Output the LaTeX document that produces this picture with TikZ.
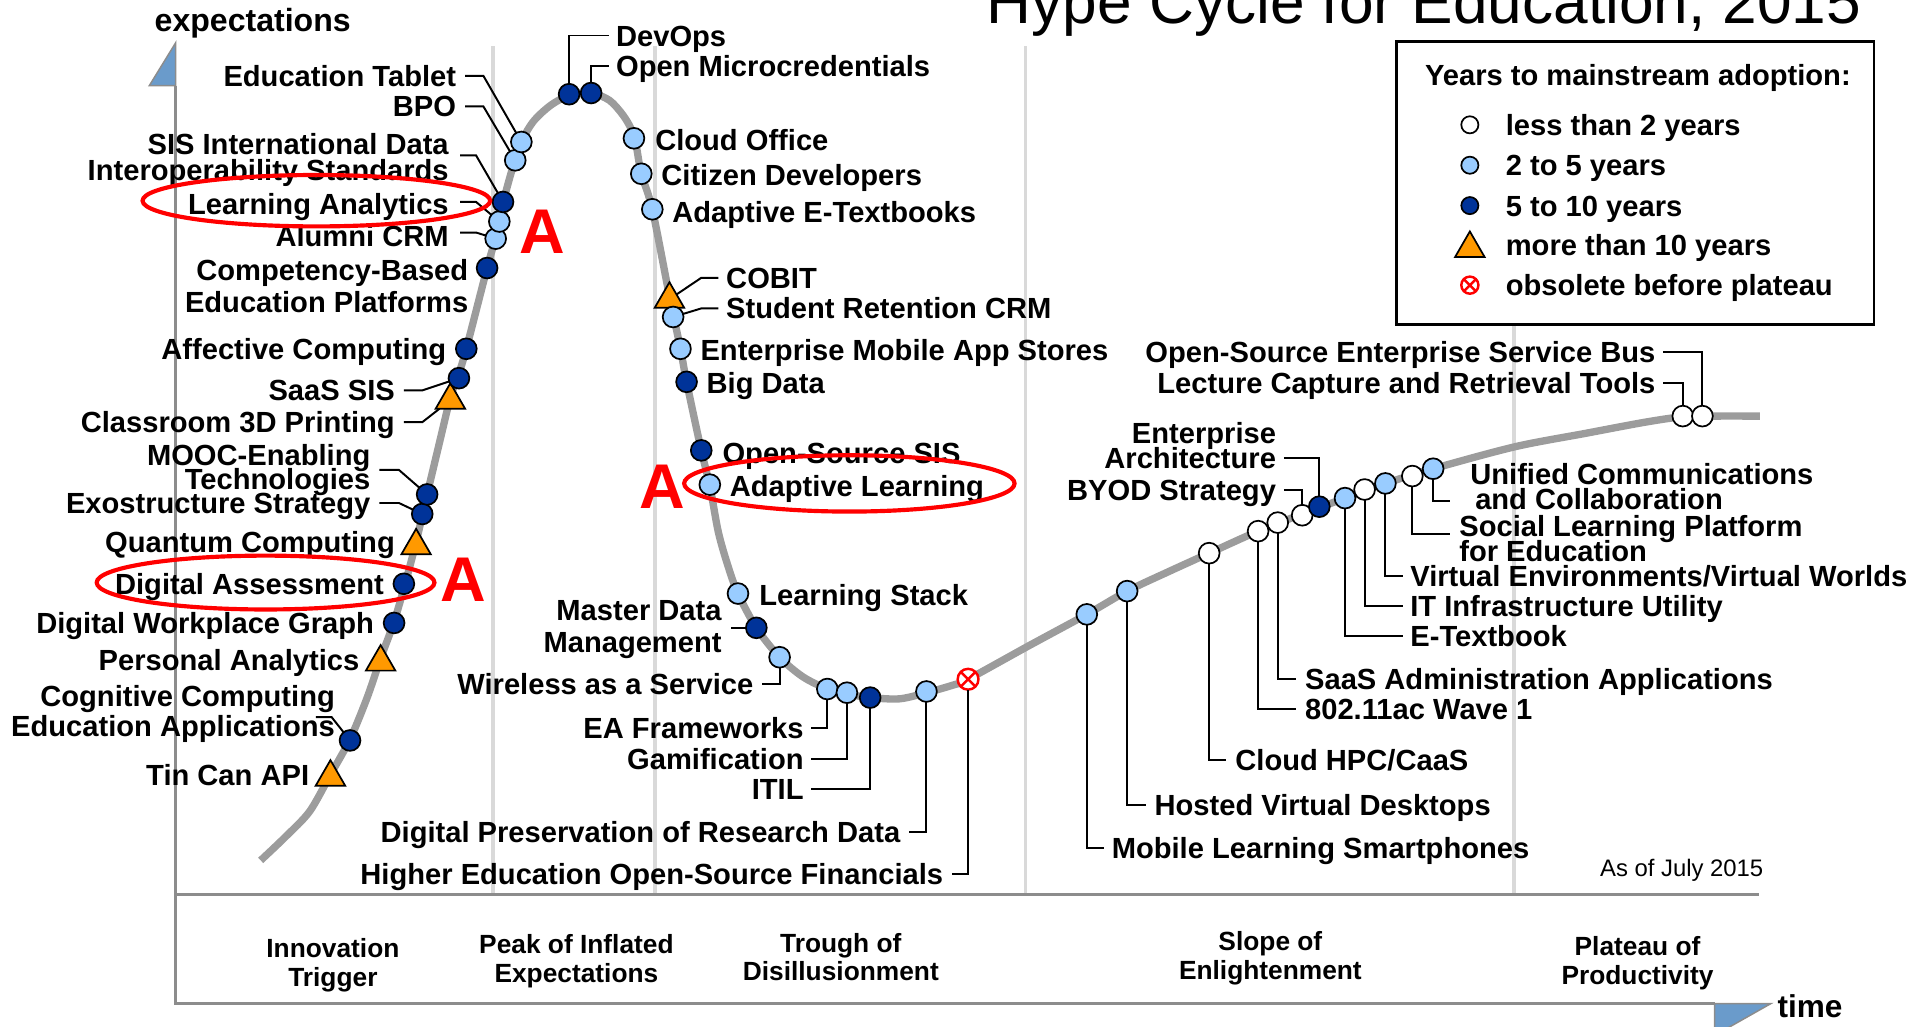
\documentclass[tikz,border=0pt]{standalone}
\usepackage{fontspec}
\setmainfont{Liberation Sans}
\usetikzlibrary{shapes.geometric}

\definecolor{curvegray}{HTML}{9C9C9C}
\definecolor{sepgray}{HTML}{D9D9D9}
\definecolor{axisgray}{HTML}{8C8C8C}
\definecolor{axisblue}{HTML}{6A9BCB}
\definecolor{lightblue}{HTML}{99CCFF}
\definecolor{darkblue}{HTML}{003399}
\definecolor{triorange}{HTML}{FF9900}

\newcommand\lblfont{\bfseries\fontsize{11.9}{10.5}\selectfont\lineskiplimit=-20pt\relax}
\newcommand\phasefont{\bfseries\fontsize{10.75}{11.75}\selectfont\lineskiplimit=-20pt\relax}

\begin{document}
\begin{tikzpicture}[x=0.5pt,y=-0.5pt,
  sep/.style={draw=sepgray, line width=1.5pt},
  axis/.style={draw=axisgray, line width=1.2pt},
  arrowtri/.style={fill=axisblue, draw=axisgray, line width=0.6pt},
  hype/.style={draw=curvegray, line width=3pt, line join=round},
  lead/.style={draw=black, line width=0.8pt},
  mk/.style={circle, draw=black, line width=0.7pt, minimum size=8.5pt, inner sep=0pt, outer sep=0pt},
  mwhite/.style={mk, fill=white},
  mlight/.style={mk, fill=lightblue},
  mdark/.style={mk, fill=darkblue},
  mtri/.style={regular polygon, regular polygon sides=3, draw=black, fill=triorange, line width=0.7pt, minimum size=13.9pt, inner sep=0pt, outer sep=0pt},
  mobs/.style={circle, draw=red, fill=white, line width=1pt, minimum size=8.5pt, inner sep=0pt, outer sep=0pt,
    path picture={\draw[red,line width=1pt] (path picture bounding box.north west) -- (path picture bounding box.south east)
      (path picture bounding box.north east) -- (path picture bounding box.south west);}},
  lbl/.style={font=\lblfont, inner sep=0pt, text height=8.6pt, text depth=0pt},
  lbll/.style={font=\lblfont, inner sep=0pt, align=left},
  lblr/.style={font=\lblfont, inner sep=0pt, align=right},
  phase/.style={font=\phasefont, inner sep=0pt, align=center},
  redring/.style={draw=red, line width=1.7pt},
  redA/.style={font=\bfseries\fontsize{25.8}{25.8}\selectfont, text=red, inner sep=0pt}]

\useasboundingbox (0,0) rectangle (1568,839);

% phase separators
\foreach \sx in {403,535,838,1237} \draw[sep] (\sx,38) -- (\sx,731);

% legend frame
\draw[fill=white, draw=black, line width=1pt] (1141,34) rectangle (1531,265);

% axes and phase band
\draw[axis] (143.5,70) -- (143.5,820) -- (1401,820);
\draw[axis] (143.5,731) -- (1437,731);
\filldraw[arrowtri] (143.5,35) -- (143.5,70) -- (122,70) -- cycle;
\filldraw[arrowtri] (1401,820) -- (1447,820) -- (1401,846) -- cycle;

\node[font=\bfseries\fontsize{13.1}{15}\selectfont, inner sep=0pt, anchor=base west] (yax) at (126,26) {expectations};
\node[font=\bfseries\fontsize{12.9}{15}\selectfont, inner sep=0pt, anchor=base west] (xax) at (1452,831) {time};
\node[font=\fontsize{25.4}{30}\selectfont, inner sep=0pt, anchor=base west] (title) at (806,19) {Hype Cycle for Education, 2015};
\node[font=\fontsize{9.75}{12}\selectfont, inner sep=0pt, anchor=base west] (asof) at (1307,716) {As of July 2015};

% phase names
\node[phase] (ph1) at (272,788.5) {Innovation\\Trigger};
\node[phase] (ph2) at (471,785.5) {Peak of Inflated\\Expectations};
\node[phase] (ph3) at (687,782) {Trough of\\Disillusionment};
\node[phase] (ph4) at (1038,783) {Slope of\\Enlightenment};
\node[phase] (ph5) at (1338,787) {Plateau of\\Productivity};

% the hype curve
\draw[hype] plot[smooth, tension=0.5] coordinates {
 (213,703) (233,684) (253,663) (270,633) (286,604) (300,570) (311,538) (322,508) (331,477)
 (340,443) (349,404) (359,362) (368,325) (375,305) (381,285) (398,219) (405,194) (411,166)
 (418,140) (426,116) (436,99) (450,86) (465,78) (483,76) (498,82) (509,94) (516,106)
 (520,120) (524,142) (533,171) (547,242) (556,285) (561,312) (573,368) (580,397) (587,435)
 (595,463) (603,485) (618,513) (637,537) (656,553) (676,563) (692,567) (711,570) (735,571)
 (757,566) (778,560) (791,555) (840,528) (888,502) (921,483) (955,467) (988,452) (1028,434)
 (1064,420) (1099,407) (1132,395) (1171,383) (1238,365) (1296,354) (1344,345) (1375,340.5)
 (1400,340) (1438,340)};

% technology markers
\node[mtri]   (mTin)   at (270,635) {};
\node[mdark]  (mCog)   at (286,605) {};
\node[mtri]   (mPA)    at (311,541) {};
\node[mdark]  (mDWG)   at (322,509) {};
\node[mdark]  (mDA)    at (330,477) {};
\node[mtri]   (mQC)    at (340,446) {};
\node[mdark]  (mExo)   at (345,420) {};
\node[mdark]  (mMOOC)  at (349,404) {};
\node[mtri]   (mC3D)   at (368,327) {};
\node[mdark]  (mSaaS)  at (375,309) {};
\node[mdark]  (mAff)   at (381,285) {};
\node[mdark]  (mCBE)   at (398,219) {};
\node[mlight] (mAlu)   at (405,195) {};
\node[mlight] (mLA)    at (408,181) {};
\node[mdark]  (mSIS)   at (411,165) {};
\node[mlight] (mBPO)   at (421,131) {};
\node[mlight] (mEdTab) at (426,116) {};
\node[mdark]  (mDev)   at (465,77) {};
\node[mdark]  (mOMC)   at (483,76) {};
\node[mlight] (mCO)    at (518,113) {};
\node[mlight] (mCD)    at (524,142) {};
\node[mlight] (mAET)   at (533,171) {};
\node[mtri]   (mCOBIT) at (547,244.5) {};
\node[mlight] (mSRC)   at (550,259) {};
\node[mlight] (mEMA)   at (556,285) {};
\node[mdark]  (mBD)    at (561,312) {};
\node[mdark]  (mOSS)   at (573,368) {};
\node[mlight] (mAL)    at (580,396) {};
\node[mlight] (mLS)    at (603,485) {};
\node[mdark]  (mMDM)   at (618,513) {};
\node[mlight] (mWaaS)  at (637,537) {};
\node[mlight] (mEAF)   at (676,563) {};
\node[mlight] (mGam)   at (692,566) {};
\node[mdark]  (mITIL)  at (711,570) {};
\node[mlight] (mDP)    at (757,565) {};
\node[mobs]   (mHE)    at (791,555) {};
\node[mlight] (mMob)   at (888,502) {};
\node[mlight] (mHVD)   at (921,483) {};
\node[mwhite] (mHPC)   at (988,452) {};
\node[mwhite] (mWave)  at (1028,434) {};
\node[mwhite] (mSAA)   at (1044,427) {};
\node[mwhite] (mBYOD)  at (1064,421) {};
\node[mdark]  (mEArch) at (1078,414) {};
\node[mlight] (mET)    at (1099,407) {};
\node[mwhite] (mITU)   at (1115,400) {};
\node[mlight] (mVE)    at (1132,395) {};
\node[mwhite] (mSLP)   at (1154,389) {};
\node[mlight] (mUCC)   at (1171,383) {};
\node[mwhite] (mLCR)   at (1375,340) {};
\node[mwhite] (mESB)   at (1391,340) {};

% labels: rising slope
\node[lbl, anchor=east] (lEdTab) at (373,62) {Education Tablet};
\node[lbl, anchor=east] (lBPO) at (373,87) {BPO};
\node[lblr, anchor=east] (lSIS) at (367,130.5) {SIS International Data\\Interoperability Standards};
\node[lbl, anchor=east] (lLA) at (367,167) {Learning Analytics};
\node[lbl, anchor=east] (lAlu) at (367,193) {Alumni CRM};
\node[lblr, anchor=east] (lCBE) at (383,234) {Competency-Based\\[2.5pt]Education Platforms};
\node[lbl, anchor=east] (lAff) at (365,285) {Affective Computing};
\node[lbl, anchor=east] (lSaaS) at (323,319) {SaaS SIS};
\node[lbl, anchor=east] (lC3D) at (323,345) {Classroom 3D Printing};
\node[lblr, anchor=east] (lMOOC) at (303,384) {MOOC-Enabling\\[-0.5pt]Technologies};
\node[lbl, anchor=east] (lExo) at (303,411) {Exostructure Strategy};
\node[lbl, anchor=east] (lQC) at (323,443) {Quantum Computing};
\node[lbl, anchor=east] (lDA) at (314,477) {Digital Assessment};
\node[lbl, anchor=east] (lDWG) at (306,509) {Digital Workplace Graph};
\node[lbl, anchor=east] (lPA) at (294,539) {Personal Analytics};
\node[lblr, anchor=east] (lCog) at (274,583.5) {Cognitive Computing\\[2pt]Education Applications};
\node[lbl, anchor=east] (lTin) at (253,633) {Tin Can API};

% labels: peak and descent
\node[lbl, anchor=west] (lDev) at (503,29) {DevOps};
\node[lbl, anchor=west] (lOMC) at (503,54) {Open Microcredentials};
\node[lbl, anchor=west] (lCO) at (535,114) {Cloud Office};
\node[lbl, anchor=west] (lCD) at (540,143) {Citizen Developers};
\node[lbl, anchor=west] (lAET) at (549,173) {Adaptive E-Textbooks};
\node[lbl, anchor=west] (lCOBIT) at (593,227) {COBIT};
\node[lbl, anchor=west] (lSRC) at (593,252) {Student Retention CRM};
\node[lbl, anchor=west] (lEMA) at (572,286) {Enterprise Mobile App Stores};
\node[lbl, anchor=west] (lBD) at (577,313) {Big Data};
\node[lbl, anchor=west] (lOSS) at (590,370) {Open-Source SIS};
\node[lbl, anchor=west] (lAL) at (596,397) {Adaptive Learning};
\node[lbl, anchor=west] (lLS) at (620,486) {Learning Stack};

% labels: trough
\node[lblr, anchor=east] (lMDM) at (590,514.5) {Master Data\\[2.5pt]Management};
\node[lbl, anchor=east] (lWaaS) at (616,559) {Wireless as a Service};
\node[lbl, anchor=east] (lEAF) at (657,595) {EA Frameworks};
\node[lbl, anchor=east] (lGam) at (657,620) {Gamification};
\node[lbl, anchor=east] (lITIL) at (657,645) {ITIL};
\node[lbl, anchor=east] (lDP) at (736,680) {Digital Preservation of Research Data};
\node[lbl, anchor=east] (lHE) at (771,714) {Higher Education Open-Source Financials};

% labels: slope and plateau
\node[lbl, anchor=west] (lMob) at (908,693) {Mobile Learning Smartphones};
\node[lbl, anchor=west] (lHVD) at (943,658) {Hosted Virtual Desktops};
\node[lbl, anchor=west] (lHPC) at (1009,621) {Cloud HPC/CaaS};
\node[lbl, anchor=west] (lWave) at (1066,579) {802.11ac Wave 1};
\node[lbl, anchor=west] (lSAA) at (1066,555) {SaaS Administration Applications};
\node[lbl, anchor=east] (lBYOD) at (1043,400) {BYOD Strategy};
\node[lblr, anchor=east] (lEArch) at (1043,364) {Enterprise\\[-0.5pt]Architecture};
\node[lbl, anchor=west] (lET) at (1152,520) {E-Textbook};
\node[lbl, anchor=west] (lITU) at (1152,495) {IT Infrastructure Utility};
\node[lbl, anchor=west] (lVE) at (1152,471) {Virtual Environments/Virtual Worlds};
\node[lbll, anchor=west] (lSLP) at (1192,440) {Social Learning Platform\\[-0.5pt]for Education};
\node[lbll, anchor=west] (lUCC) at (1201,397.5) {Unified Communications\\\hspace*{2pt}and Collaboration};
\node[lbl, anchor=east] (lESB) at (1353,288) {Open-Source Enterprise Service Bus};
\node[lbl, anchor=east] (lLCR) at (1353,313) {Lecture Capture and Retrieval Tools};

% leader lines
\draw[lead] ([xshift=3.5pt]lEdTab.east) -- ++(15,0) -- (mEdTab);
\draw[lead] ([xshift=3.5pt]lBPO.east) -- ++(15,0) -- (mBPO);
\draw[lead] ([xshift=4.5pt,yshift=1.75pt]lSIS.east) -- ++(13,0) -- (mSIS);
\draw[lead] ([xshift=4.5pt,yshift=1pt]lLA.east) -- ++(13,0) -- (mLA);
\draw[lead] ([xshift=4.5pt,yshift=1.5pt]lAlu.east) -- ++(13,0) -- (mAlu);
\draw[lead] ([xshift=3.5pt]lSaaS.east) -- ++(15,0) -- (mSaaS);
\draw[lead] ([xshift=3.5pt]lC3D.east) -- ++(15,0) -- (mC3D);
\draw[lead] ([xshift=3.5pt]lMOOC.east) -- ++(16,0) -- (mMOOC);
\draw[lead] ([xshift=3.5pt]lExo.east) -- ++(16,0) -- (mExo);
\draw[lead] ([xshift=-8pt,yshift=-1.25pt]lCog.east) -- ++(13,0) -- (mCog);
\draw[lead] (mDev) |- ([xshift=-2.5pt]lDev.west);
\draw[lead] (mOMC) |- ([xshift=-2.5pt]lOMC.west);
\draw[lead] (mCOBIT) -- ([xshift=-10pt]lCOBIT.west) -- ([xshift=-3pt]lCOBIT.west);
\draw[lead] (mSRC) -- ([xshift=-10pt]lSRC.west) -- ([xshift=-3pt]lSRC.west);
\draw[lead, shorten >=3.5pt] (mMDM) -- (mMDM -| lMDM.east);
\draw[lead] (mWaaS) |- ([xshift=3.5pt]lWaaS.east);
\draw[lead] (mEAF) |- ([xshift=3pt]lEAF.east);
\draw[lead] (mGam) |- ([xshift=3pt]lGam.east);
\draw[lead] (mITIL) |- ([xshift=3pt]lITIL.east);
\draw[lead] (mDP) |- ([xshift=3.5pt]lDP.east);
\draw[lead] (mHE) |- ([xshift=3.5pt]lHE.east);
\draw[lead] (mMob) |- ([xshift=-3pt]lMob.west);
\draw[lead] (mHVD) |- ([xshift=-3.5pt]lHVD.west);
\draw[lead] (mHPC) |- ([xshift=-3.5pt]lHPC.west);
\draw[lead] (mWave) |- ([xshift=-3.5pt]lWave.west);
\draw[lead] (mSAA) |- ([xshift=-3.5pt]lSAA.west);
\draw[lead] ([xshift=3pt]lBYOD.east) -| (mBYOD);
\draw[lead] ([xshift=3pt,yshift=-5pt]lEArch.east) -| (mEArch);
\draw[lead] (mET) |- ([xshift=-3pt]lET.west);
\draw[lead] (mITU) |- ([xshift=-3pt]lITU.west);
\draw[lead] (mVE) |- ([xshift=-3pt]lVE.west);
\draw[lead] (mSLP) |- ([xshift=-3.5pt,yshift=2pt]lSLP.west);
\draw[lead] (mUCC) |- ([xshift=-8pt,yshift=-6pt]lUCC.west);
\draw[lead] ([xshift=3pt]lESB.east) -| (mESB);
\draw[lead] ([xshift=3pt]lLCR.east) -| (mLCR);

% legend content
\node[lbl, anchor=west] (legT) at (1164,61) {Years to mainstream adoption:};
\node[mwhite, minimum size=7pt] (lg1) at (1201,102) {};
\node[mlight, minimum size=7pt] (lg2) at (1201,135) {};
\node[mdark, minimum size=7pt] (lg3) at (1201,168) {};
\node[mtri] (lg4) at (1201,203) {};
\node[mobs, minimum size=7pt] (lg5) at (1201,233) {};
\node[lbl, anchor=west] (lgt1) at (1230,102) {less than 2 years};
\node[lbl, anchor=west] (lgt2) at (1230,135) {2 to 5 years};
\node[lbl, anchor=west] (lgt3) at (1230,168) {5 to 10 years};
\node[lbl, anchor=west] (lgt4) at (1230,200) {more than 10 years};
\node[lbl, anchor=west] (lgt5) at (1230,233) {obsolete before plateau};

% highlights
\draw[redring] (258.5,164) ellipse [x radius=71pt, y radius=10.5pt];
\draw[redring] (217,476) ellipse [x radius=69pt, y radius=11pt];
\draw[redring] (694,395) ellipse [x radius=67.5pt, y radius=11.5pt];
\node[redA] (hA1) at (443,189) {A};
\node[redA] (hA2) at (378.5,474) {A};
\node[redA] (hA3) at (541,398) {A};

\end{tikzpicture}
\end{document}
